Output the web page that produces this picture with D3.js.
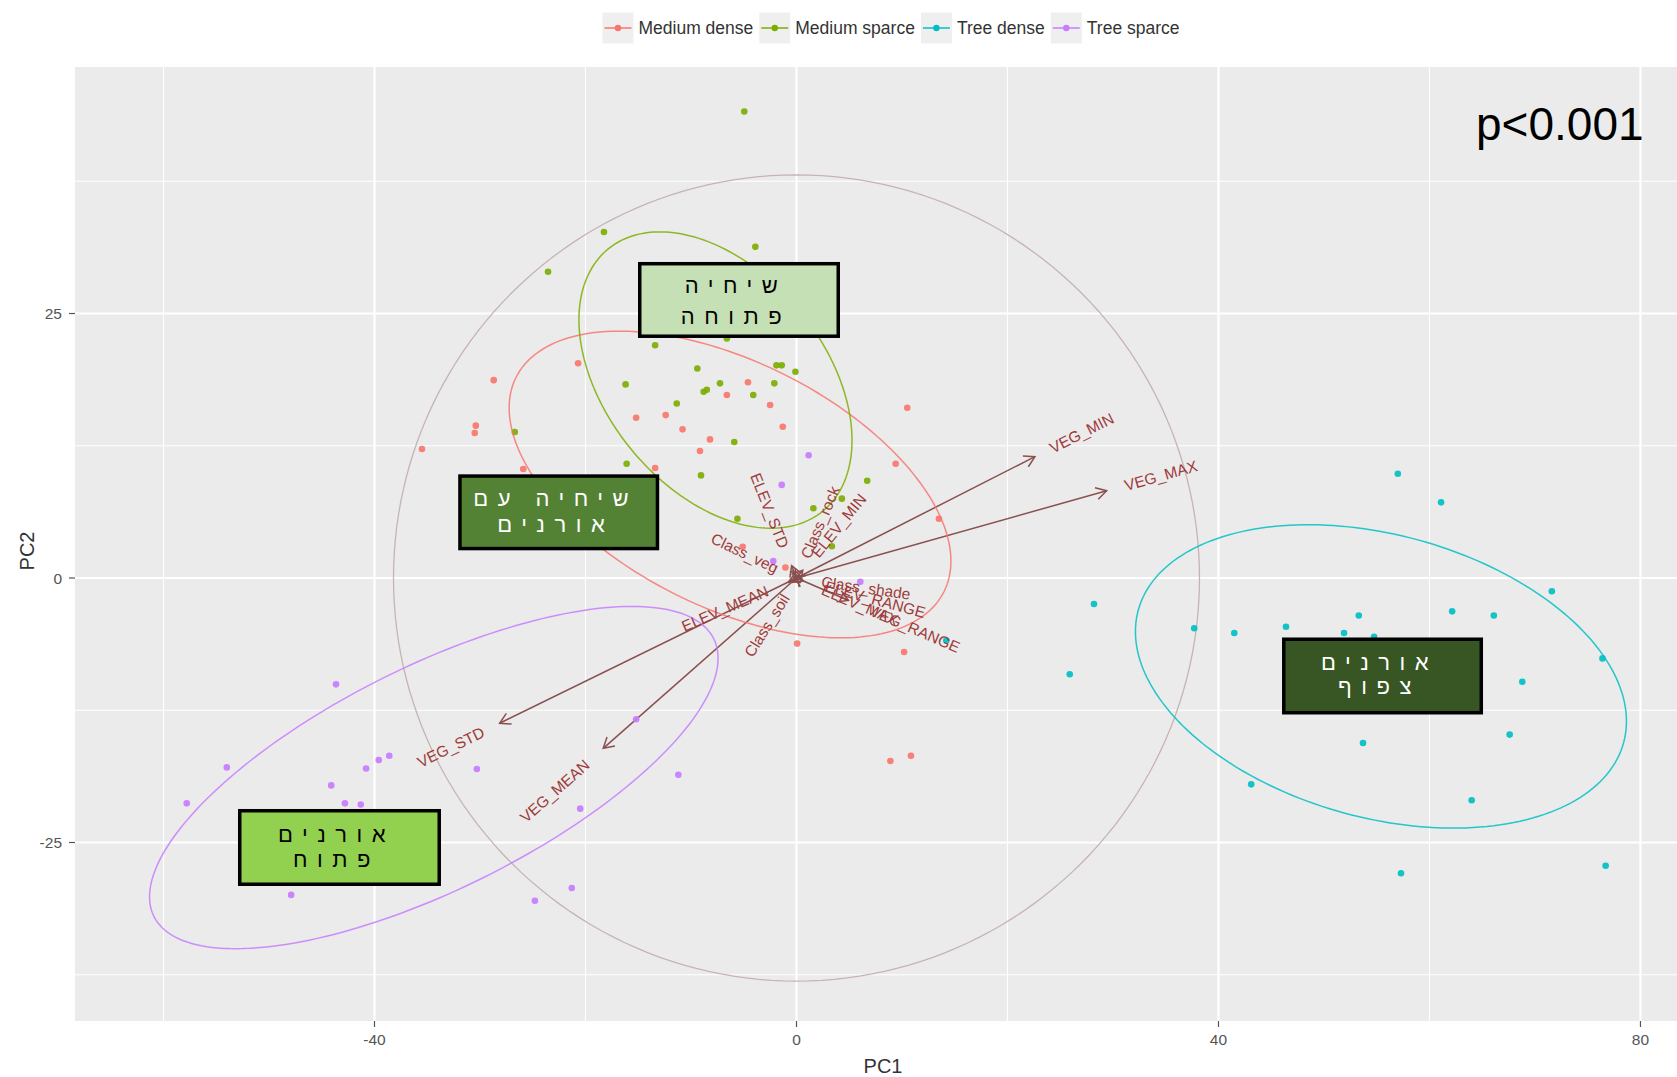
<!DOCTYPE html>
<html><head><meta charset="utf-8">
<script src="https://cdn.jsdelivr.net/npm/d3@7"></script>
<style>
body{margin:0;background:#fff;}
svg{display:block;}
text{font-family:"Liberation Sans",Arial,"DejaVu Sans",sans-serif;}
</style>
</head><body>
<svg id="chart" width="1677" height="1077"></svg>
<script>
// ---------------- DATA ----------------
const groups = ["Medium dense", "Medium sparce", "Tree dense", "Tree sparce"];
const groupColors = ["#F8766D", "#7CAE00", "#00BFC4", "#C77CFF"];

const mediumDense = [[-20.7,20.3],[-28.7,18.7],[-30.4,14.4],[-30.5,13.7],[-35.5,12.2],[-15.2,15.15],[-12.4,15.4],[-10.8,14.05],[-4.6,18.5],[-6.6,17.3],[-2.5,16.35],[-1.3,14.3],[-8.2,13.1],[-9.15,12.0],[9.4,10.8],[-25.9,10.3],[-13.4,10.4],[10.5,16.1],[13.5,5.6],[-5.1,2.95],[0.06,-6.2],[10.2,-7.0],[8.9,-17.3],[10.85,-16.8],[-1.05,1.0]];
const mediumSparce = [[-4.95,44.1],[-18.25,32.7],[-3.9,31.3],[-23.55,28.95],[-13.4,22.0],[-6.6,22.65],[-9.4,19.8],[-16.2,18.3],[-7.25,18.4],[-8.8,17.6],[-8.5,17.8],[-11.35,16.5],[-4.1,17.3],[-2.1,18.4],[-1.9,20.1],[-1.4,20.1],[-0.1,19.5],[-5.9,12.85],[-26.7,13.8],[-16.1,10.8],[-9.05,9.7],[6.7,9.2],[-5.6,5.6],[1.6,6.6],[3.35,3.0],[4.3,7.5]];
const treeDense = [[57.0,9.85],[61.1,7.15],[28.2,-2.45],[25.9,-9.1],[37.7,-4.75],[41.5,-5.2],[46.4,-4.6],[53.3,-3.55],[51.9,-5.2],[54.75,-5.55],[62.15,-3.15],[66.1,-3.55],[71.6,-1.25],[76.4,-7.6],[68.8,-9.8],[67.6,-14.8],[53.7,-15.6],[43.1,-19.5],[64.0,-21.0],[57.3,-27.9],[76.7,-27.2],[14.2,-5.9]];
const treeSparce = [[1.15,11.6],[-1.4,8.8],[-2.2,1.6],[6.05,-0.35],[-15.2,-13.35],[-30.3,-18.05],[-11.2,-18.6],[-38.6,-16.8],[-39.6,-17.2],[-43.65,-10.05],[-54.0,-17.9],[-57.8,-21.3],[-40.8,-18.0],[-44.1,-19.6],[-42.8,-21.3],[-41.3,-21.4],[-20.5,-21.8],[-47.9,-29.95],[-24.8,-30.5],[-21.3,-29.3]];
const groupPoints = [mediumDense, mediumSparce, treeDense, treeSparce];

// ellipse parameters (centre x, centre y, semi-axis a, semi-axis b, angle deg) in PC units
const ellipseCx = [-6.30, -7.68, 55.4, -34.38];
const ellipseCy = [8.84, 18.71, -9.3, -18.86];
const ellipseA = [22.67, 16.03, 23.84, 29.6];
const ellipseB = [11.6, 10.33, 13.37, 10.56];
const ellipseAngle = [-26.5, -50.5, -15.2, 26.3];

// correlation circle
const circleR = [38.2, 38.1];

// variable loadings (arrow tips, PC units)
const varNames = ["VEG_MIN","VEG_MAX","VEG_STD","VEG_MEAN","ELEV_STD","ELEV_MIN","Class_rock","Class_veg","ELEV_MEAN","Class_soil","Class_shade","ELEV_RANGE","ELEV_MAX","VEG_RANGE"];
const varX = [22.6, 29.4, -28.14, -18.32, -0.46, 0.59, 0.11, -0.27, -0.70, -0.15, 0.28, 0.37, 0.66, 4.93];
const varY = [11.47, 8.25, -13.73, -16.1, 1.16, 0.73, 0.26, 0.13, -0.30, -0.24, -0.04, -0.10, -0.28, -2.12];

const xTicks = [-40, 0, 40, 80];
const xMinor = [-60, -20, 20, 60];
const yTicks = [-25, 0, 25];
const yMinor = [-37.5, -12.5, 12.5, 37.5];
const xTitle = "PC1", yTitle = "PC2";
const pText = "p<0.001";

// annotation boxes (centre in PC units)
const boxLines = [["שיחיה","פתוחה"],["שיחיה עם","אורנים"],["אורנים","צפוף"],["אורנים","פתוח"]];
const boxX = [-5.45, -22.54, 55.55, -43.32];
const boxY = [26.28, 6.21, -9.26, -25.47];

// ---------------- LAYOUT ----------------
const panel = {left: 75, right: 1691, top: 67, bottom: 1021};
const boxStyle = [
  {w:202, h:76, fill:"#C5E0B4", color:"#000", l1:-15, l2:16},
  {w:201, h:76, fill:"#548235", color:"#fff", l1:-14, l2:12},
  {w:201, h:77, fill:"#375623", color:"#fff", l1:-14, l2:10},
  {w:203, h:77, fill:"#92D050", color:"#000", l1:-13, l2:11.5}
];

const svg = d3.select("#chart");
const x = d3.scaleLinear().domain([-68.39, 84.79]).range([panel.left, panel.right]);
const y = d3.scaleLinear().domain([-41.87, 48.30]).range([panel.bottom, panel.top]);

// panel
svg.append("rect").attr("x", panel.left).attr("y", panel.top)
  .attr("width", panel.right - panel.left).attr("height", panel.bottom - panel.top)
  .attr("fill", "#EBEBEB");

svg.append("clipPath").attr("id","clip").append("rect")
  .attr("x", panel.left).attr("y", panel.top)
  .attr("width", panel.right - panel.left).attr("height", panel.bottom - panel.top);

const g = svg.append("g").attr("clip-path","url(#clip)");

// grid
g.selectAll(".xminor").data(xMinor).join("line")
  .attr("x1", d=>x(d)).attr("x2", d=>x(d)).attr("y1", panel.top).attr("y2", panel.bottom)
  .attr("stroke","#fff").attr("stroke-width",1.1);
g.selectAll(".yminor").data(yMinor).join("line")
  .attr("y1", d=>y(d)).attr("y2", d=>y(d)).attr("x1", panel.left).attr("x2", panel.right)
  .attr("stroke","#fff").attr("stroke-width",1.1);
g.selectAll(".xmajor").data(xTicks).join("line")
  .attr("x1", d=>x(d)).attr("x2", d=>x(d)).attr("y1", panel.top).attr("y2", panel.bottom)
  .attr("stroke","#fff").attr("stroke-width",2.2);
g.selectAll(".ymajor").data(yTicks).join("line")
  .attr("y1", d=>y(d)).attr("y2", d=>y(d)).attr("x1", panel.left).attr("x2", panel.right)
  .attr("stroke","#fff").attr("stroke-width",2.2);

// ellipse path helper
function ellipsePts(cx, cy, a, b, angDeg) {
  const phi = angDeg * Math.PI / 180;
  return d3.range(0, 200).map(i => {
    const t = i / 200 * 2 * Math.PI;
    const ex = cx + a * Math.cos(t) * Math.cos(phi) - b * Math.sin(t) * Math.sin(phi);
    const ey = cy + a * Math.cos(t) * Math.sin(phi) + b * Math.sin(t) * Math.cos(phi);
    return [x(ex), y(ey)];
  });
}
const closed = d3.line().curve(d3.curveLinearClosed);

// correlation circle
g.append("path").attr("d", closed(ellipsePts(0, 0, circleR[0], circleR[1], 0)))
  .attr("fill","none").attr("stroke","#C7B3B3").attr("stroke-width",1.3);

// arrows
const ox = x(0), oy = y(0);
const arrowG = g.append("g");
varNames.forEach((n, i) => {
  const tx = x(varX[i]), ty = y(varY[i]);
  arrowG.append("line").attr("x1", ox).attr("y1", oy).attr("x2", tx).attr("y2", ty)
    .attr("stroke","#8A4F4F").attr("stroke-width",1.5);
  const ang = Math.atan2(ty - oy, tx - ox);
  const L = 12, h = Math.PI / 6;
  const p1 = [tx - L*Math.cos(ang - h), ty - L*Math.sin(ang - h)];
  const p2 = [tx - L*Math.cos(ang + h), ty - L*Math.sin(ang + h)];
  arrowG.append("path").attr("d", `M${p1[0]},${p1[1]}L${tx},${ty}L${p2[0]},${p2[1]}`)
    .attr("fill","none").attr("stroke","#8A4F4F").attr("stroke-width",1.5);
});

// points
groupPoints.forEach((pts, gi) => {
  g.append("g").selectAll("circle").data(pts).join("circle")
    .attr("cx", d=>x(d[0])).attr("cy", d=>y(d[1])).attr("r", 3.3)
    .attr("fill", groupColors[gi]).attr("fill-opacity", 0.92);
});

// ellipses
groups.forEach((grp, gi) => {
  g.append("path").attr("d", closed(ellipsePts(ellipseCx[gi], ellipseCy[gi], ellipseA[gi], ellipseB[gi], ellipseAngle[gi])))
    .attr("fill","none").attr("stroke", groupColors[gi]).attr("stroke-width",1.5)
    .attr("stroke-opacity", 0.85);
});

// variable labels (ggbiplot style)
varNames.forEach((n, i) => {
  const tx = x(varX[i]), ty = y(varY[i]);
  const angDeg = -Math.atan(varY[i] / varX[i]) * 180 / Math.PI;
  const t = g.append("text").attr("transform", `translate(${tx},${ty}) rotate(${angDeg})`)
    .attr("font-size", 15.5).attr("fill", "#9E3B3B")
    .attr("dominant-baseline","central")
    .attr("text-anchor", varX[i] >= 0 ? "start" : "end")
    .text(n);
  const w = t.node().getComputedTextLength();
  t.attr("x", varX[i] >= 0 ? 0.25*w : -0.25*w);
});

// annotation boxes
boxLines.forEach((lines, i) => {
  const s = boxStyle[i];
  const cx = x(boxX[i]), cy = y(boxY[i]);
  svg.append("rect").attr("x", cx - s.w/2 + 1.75).attr("y", cy - s.h/2 + 1.75)
    .attr("width", s.w - 3.5).attr("height", s.h - 3.5)
    .attr("fill", s.fill).attr("stroke","#000").attr("stroke-width",3.5);
  [s.l1, s.l2].forEach((off, li) => {
    svg.append("text").attr("x", cx - 3).attr("y", cy + off + 8)
      .attr("text-anchor","middle").attr("direction","rtl")
      .attr("font-size", 22).attr("letter-spacing", "9.5px")
      .attr("fill", s.color).text(lines[li]);
  });
});

// p-value
svg.append("text").attr("x", 1476).attr("y", 140).attr("font-size", 46).attr("fill","#000").text(pText);

// axes ticks & labels
svg.selectAll(".xt").data(xTicks).join("line")
  .attr("x1", d=>x(d)).attr("x2", d=>x(d)).attr("y1", panel.bottom).attr("y2", panel.bottom + 6)
  .attr("stroke","#555").attr("stroke-width",1.2);
svg.selectAll(".xtl").data(xTicks).join("text")
  .attr("x", d=>x(d)).attr("y", panel.bottom + 24).attr("text-anchor","middle")
  .attr("font-size",15.5).attr("fill","#555").text(d=>d);
svg.selectAll(".yt").data(yTicks).join("line")
  .attr("y1", d=>y(d)).attr("y2", d=>y(d)).attr("x1", panel.left - 6).attr("x2", panel.left)
  .attr("stroke","#555").attr("stroke-width",1.2);
svg.selectAll(".ytl").data(yTicks).join("text")
  .attr("x", panel.left - 13).attr("y", d=>y(d)).attr("text-anchor","end")
  .attr("dominant-baseline","central")
  .attr("font-size",15.5).attr("fill","#555").text(d=>d);

svg.append("text").attr("x", 883).attr("y", 1073).attr("text-anchor","middle")
  .attr("font-size",20).attr("fill","#333").text(xTitle);
svg.append("text").attr("transform","translate(34,551) rotate(-90)").attr("text-anchor","middle")
  .attr("font-size",20).attr("fill","#333").text(yTitle);

// legend
const leg = svg.append("g");
const legCenterX = 891, legY = 28, keyW = 31;
const items = groups.map((gname, i) => {
  const t = leg.append("text").attr("font-size",17.5).attr("fill","#333")
    .attr("dominant-baseline","central").text(gname);
  return {t, w: t.node().getComputedTextLength()};
});
const gap1 = 5, gap2 = 6;
const total = items.reduce((s, it) => s + keyW + gap1 + it.w, 0) + gap2 * (items.length - 1);
let cur = legCenterX - total / 2;
items.forEach((it, i) => {
  leg.append("rect").attr("x", cur).attr("y", legY - keyW/2).attr("width", keyW).attr("height", keyW).attr("fill","#EFEFEF");
  leg.append("line").attr("x1", cur + 2).attr("x2", cur + keyW - 2).attr("y1", legY).attr("y2", legY)
    .attr("stroke", groupColors[i]).attr("stroke-width",1.5);
  leg.append("circle").attr("cx", cur + keyW/2).attr("cy", legY).attr("r", 3.2).attr("fill", groupColors[i]);
  it.t.attr("x", cur + keyW + gap1).attr("y", legY);
  cur += keyW + gap1 + it.w + gap2;
});
</script>
</body></html>
